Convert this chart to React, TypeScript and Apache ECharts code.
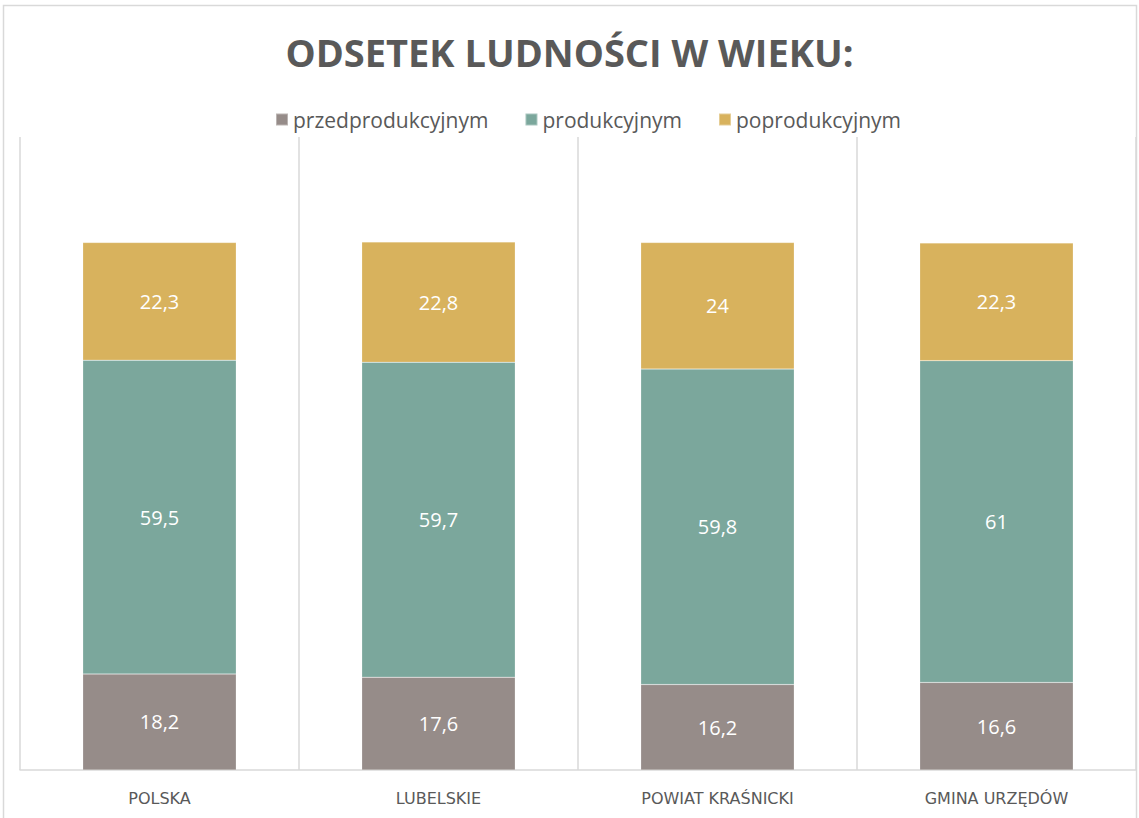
import React, { useEffect, useRef } from "react";
import * as echarts from "echarts";

const categories = ["POLSKA", "LUBELSKIE", "POWIAT KRAŚNICKI", "GMINA URZĘDÓW"];
const seriesNames = ["przedprodukcyjnym", "produkcyjnym", "poprodukcyjnym"];
const przedprodukcyjnym = [18.2, 17.6, 16.2, 16.6];
const produkcyjnym = [59.5, 59.7, 59.8, 61];
const poprodukcyjnym = [22.3, 22.8, 24, 22.3];
const colors = ["#968c89", "#7ba79c", "#d8b25d"];

export default function App() {
  const ref = useRef<HTMLDivElement>(null);
  useEffect(() => {
    document.body.style.margin = "0";
    const chart = echarts.init(ref.current!, null, { renderer: "svg" });
    const values = [przedprodukcyjnym, produkcyjnym, poprodukcyjnym];
    chart.setOption({
      animation: false,
      backgroundColor: "#ffffff",
      title: {
        text: "ODSETEK LUDNOŚCI W WIEKU:",
        left: "center",
        top: 28,
        textStyle: {
          fontFamily: "Open Sans",
          fontWeight: "bold",
          fontSize: 38,
          color: "#595959",
        },
      },
      legend: {
        top: 104,
        left: 270,
        icon: "rect",
        itemWidth: 12,
        itemHeight: 12,
        itemGap: 36,
        data: seriesNames,
        textStyle: { fontFamily: "Open Sans", fontSize: 21, color: "#595959" },
      },
      graphic: [
        {
          type: "rect",
          shape: { x: 3.5, y: 5.5, width: 1133, height: 830 },
          style: { fill: "none", stroke: "#d9d9d9", lineWidth: 1.5 },
          silent: true,
        },
      ],
      grid: { left: 20, right: 3, top: 137, bottom: 48 },
      xAxis: {
        type: "category",
        data: categories,
        axisTick: { show: false },
        axisLine: { lineStyle: { color: "#d9d9d9", width: 1.5 } },
        splitLine: { show: true, lineStyle: { color: "#d9d9d9", width: 1.5 } },
        axisLabel: { fontFamily: "DejaVu Sans", fontSize: 16, color: "#595959", margin: 20 },
      },
      yAxis: { type: "value", min: 0, max: 120, show: false },
      series: seriesNames.map((name, i) => ({
        name,
        type: "bar",
        stack: "total",
        barWidth: "55%",
        data: values[i],
        itemStyle: { color: colors[i], borderColor: "rgba(255,255,255,0.35)", borderWidth: 0.5 },
        label: {
          show: true,
          position: "inside",
          color: "#ffffff",
          fontFamily: "Open Sans",
          fontSize: 20,
          formatter: (p: any) => String(p.value).replace(".", ","),
        },
      })),
    });
    return () => chart.dispose();
  }, []);
  return <div ref={ref} style={{ width: 1139, height: 818 }} />;
}
